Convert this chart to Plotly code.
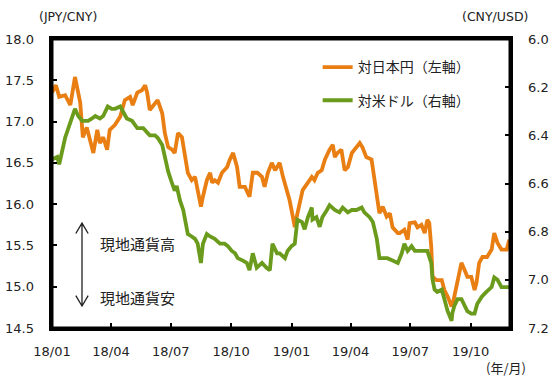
import plotly.graph_objects as go

# ---- data ----
jpy_dates = ["2018-01-01","2018-01-07","2018-01-12","2018-01-21","2018-01-29","2018-02-05","2018-02-13","2018-02-17",
    "2018-02-23","2018-02-28","2018-03-05","2018-03-11","2018-03-15","2018-03-20","2018-03-26","2018-03-30",
    "2018-04-07","2018-04-15","2018-04-22","2018-04-30","2018-05-04","2018-05-11","2018-05-18","2018-05-23",
    "2018-05-26","2018-05-30","2018-06-07","2018-06-11","2018-06-18","2018-06-22","2018-06-27","2018-07-03",
    "2018-07-07","2018-07-12","2018-07-18","2018-07-23","2018-07-27","2018-08-02","2018-08-07","2018-08-11",
    "2018-08-16","2018-08-19","2018-08-25","2018-08-30","2018-09-02","2018-09-06","2018-09-11","2018-09-17",
    "2018-09-25","2018-09-29","2018-10-04","2018-10-10","2018-10-14","2018-10-22","2018-10-29","2018-11-03",
    "2018-11-10","2018-11-17","2018-11-21","2018-11-26","2018-12-02","2018-12-07","2018-12-14","2018-12-19",
    "2018-12-25","2018-12-29","2019-01-03","2019-01-06","2019-01-09","2019-01-14","2019-01-18","2019-01-26",
    "2019-02-01","2019-02-05","2019-02-10","2019-02-16","2019-02-21","2019-02-28","2019-03-05","2019-03-08",
    "2019-03-12","2019-03-18","2019-03-23","2019-03-28","2019-04-03","2019-04-07","2019-04-15","2019-04-19",
    "2019-04-25","2019-05-03","2019-05-08","2019-05-11","2019-05-15","2019-05-20","2019-05-26","2019-05-31",
    "2019-06-04","2019-06-12","2019-06-15","2019-06-22","2019-06-27","2019-06-30","2019-07-08","2019-07-12",
    "2019-07-18","2019-07-23","2019-07-27","2019-07-30","2019-08-02","2019-08-04","2019-08-10","2019-08-18",
    "2019-08-22","2019-08-27","2019-09-02","2019-09-05","2019-09-10","2019-09-14","2019-09-17","2019-09-22",
    "2019-09-26","2019-10-02","2019-10-07","2019-10-10","2019-10-14","2019-10-19","2019-10-26","2019-11-02",
    "2019-11-06","2019-11-11","2019-11-17","2019-11-25","2019-11-29"]
jpy_values = [17.35,17.44,17.30,17.32,17.20,17.54,17.23,16.81,
    16.93,16.78,16.62,16.90,16.74,16.81,16.66,16.90,
    16.96,17.06,17.26,17.30,17.20,17.35,17.38,17.44,
    17.35,17.14,17.23,17.26,17.10,16.86,16.69,16.66,
    16.62,16.86,16.81,16.54,16.38,16.29,16.33,16.17,
    15.97,16.09,16.29,16.38,16.26,16.29,16.26,16.38,
    16.45,16.54,16.62,16.45,16.21,16.21,16.09,16.38,
    16.38,16.33,16.21,16.38,16.50,16.41,16.50,16.33,
    16.17,16.05,15.85,15.72,15.85,16.05,16.17,16.26,
    16.33,16.29,16.38,16.41,16.54,16.66,16.72,16.57,
    16.62,16.66,16.41,16.45,16.62,16.66,16.74,16.69,
    16.57,16.54,16.26,16.05,15.89,15.97,15.85,15.89,
    15.72,15.65,15.65,15.69,15.57,15.77,15.78,15.72,
    15.75,15.65,15.81,15.77,15.48,15.12,15.08,15.08,
    14.96,14.88,14.76,14.84,15.05,15.20,15.29,15.20,
    15.12,15.12,14.96,15.05,15.29,15.36,15.36,15.45,
    15.65,15.53,15.45,15.45,15.57]

usd_dates = ["2018-01-01","2018-01-09","2018-01-12","2018-01-16","2018-01-21","2018-01-26","2018-02-01","2018-02-05",
    "2018-02-10","2018-02-16","2018-02-20","2018-02-25","2018-03-03","2018-03-08","2018-03-15","2018-03-20",
    "2018-03-27","2018-04-02","2018-04-07","2018-04-15","2018-04-19","2018-04-25","2018-05-03","2018-05-11",
    "2018-05-20","2018-05-30","2018-06-07","2018-06-11","2018-06-18","2018-06-22","2018-06-27","2018-07-03",
    "2018-07-07","2018-07-10","2018-07-15","2018-07-20","2018-07-23","2018-07-27","2018-08-02","2018-08-07",
    "2018-08-11","2018-08-16","2018-08-19","2018-08-25","2018-08-30","2018-09-06","2018-09-14","2018-09-21",
    "2018-09-26","2018-10-02","2018-10-07","2018-10-11","2018-10-19","2018-10-25","2018-10-29","2018-11-03",
    "2018-11-09","2018-11-17","2018-11-24","2018-11-29","2018-12-03","2018-12-10","2018-12-14","2018-12-22",
    "2018-12-26","2019-01-01","2019-01-06","2019-01-09","2019-01-10","2019-01-17","2019-01-21","2019-01-26",
    "2019-02-01","2019-02-02","2019-02-08","2019-02-13","2019-02-17","2019-02-24","2019-02-28","2019-03-08",
    "2019-03-15","2019-03-20","2019-03-28","2019-04-03","2019-04-10","2019-04-18","2019-04-22","2019-04-30",
    "2019-05-05","2019-05-11","2019-05-15","2019-05-20","2019-05-27","2019-06-04","2019-06-12","2019-06-18",
    "2019-06-22","2019-06-27","2019-07-03","2019-07-08","2019-07-15","2019-07-23","2019-07-27","2019-08-02",
    "2019-08-04","2019-08-07","2019-08-11","2019-08-18","2019-08-22","2019-08-27","2019-09-02","2019-09-03",
    "2019-09-06","2019-09-11","2019-09-17","2019-09-22","2019-09-26","2019-10-02","2019-10-07","2019-10-11",
    "2019-10-18","2019-10-25","2019-11-02","2019-11-06","2019-11-11","2019-11-17","2019-11-25","2019-11-29"]
usd_values = [6.50,6.49,6.52,6.47,6.41,6.37,6.32,6.29,
    6.32,6.34,6.34,6.34,6.33,6.32,6.33,6.32,
    6.28,6.29,6.29,6.28,6.30,6.33,6.34,6.37,
    6.37,6.40,6.40,6.41,6.44,6.49,6.55,6.60,
    6.63,6.61,6.67,6.71,6.76,6.81,6.82,6.83,
    6.85,6.93,6.85,6.81,6.82,6.83,6.85,6.85,
    6.86,6.88,6.89,6.91,6.92,6.93,6.96,6.89,
    6.95,6.93,6.95,6.96,6.85,6.89,6.89,6.91,
    6.88,6.86,6.85,6.79,6.75,6.76,6.79,6.74,
    6.70,6.75,6.74,6.78,6.74,6.71,6.69,6.71,
    6.72,6.70,6.72,6.71,6.71,6.70,6.72,6.74,
    6.76,6.83,6.91,6.91,6.91,6.92,6.93,6.89,
    6.85,6.88,6.86,6.88,6.88,6.88,6.88,6.93,
    7.00,7.04,7.05,7.04,7.08,7.13,7.17,7.14,
    7.11,7.08,7.08,7.11,7.13,7.14,7.14,7.10,
    7.07,7.05,7.03,6.99,7.00,7.03,7.03,7.03]

x_tick_vals = ["2018-01-01","2018-04-01","2018-07-01","2018-10-01","2019-01-01","2019-04-01","2019-07-01","2019-10-01"]
x_tick_text = ["18/01","18/04","18/07","18/10","19/01","19/04","19/07","19/10"]

series_names = ["対日本円（左軸）", "対米ドル（右軸）"]
ORANGE = "#E97E13"
GREEN = "#6A9B1C"

JP = "Noto Sans CJK JP"
NUM = "DejaVu Sans"

fig = go.Figure()
fig.add_trace(go.Scatter(x=jpy_dates, y=jpy_values, name=series_names[0], mode="lines",
                         line=dict(color=ORANGE, width=3.8), legendgroup="a", yaxis="y"))
fig.add_trace(go.Scatter(x=usd_dates, y=usd_values, name=series_names[1], mode="lines",
                         line=dict(color=GREEN, width=3.8), legendgroup="b", yaxis="y2"))

axis_common = dict(showline=True, linecolor="#000000", linewidth=3, ticks="inside", ticklen=5,
                   tickwidth=2, tickcolor="#000000", showgrid=False, zeroline=False,
                   automargin=False, layer="above traces",
                   tickfont=dict(family=NUM, size=13, color="#222"))

fig.update_layout(
    width=551, height=378,
    margin=dict(l=52, r=41, t=39, b=50, autoexpand=False),
    paper_bgcolor="white", plot_bgcolor="white",
    xaxis=dict(**axis_common, mirror=True, type="date",
               range=["2018-01-01", "2019-11-30"],
               tickmode="array", tickvals=x_tick_vals, ticktext=x_tick_text,
               ticklabelstandoff=9),
    yaxis=dict(**axis_common, range=[14.5, 18.0], dtick=0.5, tickformat=".1f",
               ticksuffix="   "),
    yaxis2=dict(**axis_common, overlaying="y", side="right", range=[7.2, 6.0],
                dtick=0.2, tickformat=".1f", tickprefix="   "),
    showlegend=True,
    legend=dict(x=0.58, y=0.957, xanchor="left", yanchor="top", bgcolor="rgba(0,0,0,0)",
                font=dict(family=JP, size=14, color="#222"), tracegroupgap=12,
                traceorder="grouped"),
    font=dict(family=JP),
)

# plot frame
fig.add_shape(type="rect", xref="paper", yref="paper", x0=0, x1=1, y0=0, y1=1,
              line=dict(color="#000000", width=3), layer="above")

# axis unit labels
fig.add_annotation(text="(JPY/CNY)", xref="paper", yref="paper", x=0.035, y=1.0,
                   yshift=23, xanchor="center", yanchor="middle", showarrow=False,
                   font=dict(family=NUM, size=12.5, color="#222"))
fig.add_annotation(text="(CNY/USD)", xref="paper", yref="paper", x=0.967, y=1.0,
                   yshift=23, xanchor="center", yanchor="middle", showarrow=False,
                   font=dict(family=NUM, size=12.5, color="#222"))
fig.add_annotation(text="(年/月)", xref="paper", yref="paper", x=1.04, y=-0.138,
                   xanchor="right", yanchor="middle", showarrow=False,
                   font=dict(family=JP, size=13, color="#222"))

# currency direction note
fig.add_annotation(text="現地通貨高", xref="paper", yref="paper", x=0.10, y=0.294,
                   xanchor="left", yanchor="middle", showarrow=False,
                   font=dict(family=JP, size=15, color="#222"))
fig.add_annotation(text="現地通貨安", xref="paper", yref="paper", x=0.10, y=0.104,
                   xanchor="left", yanchor="middle", showarrow=False,
                   font=dict(family=JP, size=15, color="#222"))
ax, yt, yb, dx, dy = 0.0655, 0.363, 0.076, 0.0135, 0.036
fig.add_shape(type="path", xref="paper", yref="paper",
              path=(f"M {ax} {yt} L {ax} {yb} "
                    f"M {ax-dx} {yt-dy} L {ax} {yt} L {ax+dx} {yt-dy} "
                    f"M {ax-dx} {yb+dy} L {ax} {yb} L {ax+dx} {yb+dy}"),
              line=dict(color="#222", width=1.3))

fig.write_html("out.html", config={"displayModeBar": False},
               post_script="document.body.style.margin='0';")
